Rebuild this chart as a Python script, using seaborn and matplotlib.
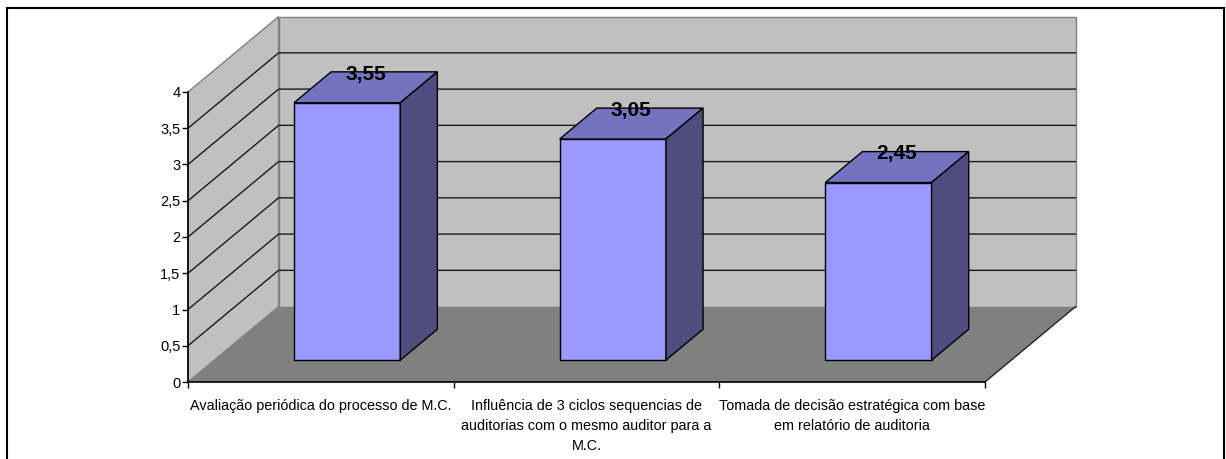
import numpy as np
import pandas as pd
import matplotlib
matplotlib.use("Agg")
import matplotlib.pyplot as plt
import seaborn as sns
from matplotlib.patches import Polygon, Rectangle

# data
categories = [
    "Avaliação periódica do processo de M.C.",
    "Influência de 3 ciclos sequencias de\nauditorias com o mesmo auditor para a\nM.C.",
    "Tomada de decisão estratégica com base\nem relatório de auditoria",
]
values = [3.55, 3.05, 2.45]
y_ticks = [0, 0.5, 1, 1.5, 2, 2.5, 3, 3.5, 4]
y_tick_labels = ["0", "0,5", "1", "1,5", "2", "2,5", "3", "3,5", "4"]

df = pd.DataFrame({"cat": categories, "val": values})

sns.set_style("white")
plt.rcParams['font.family'] = ['Liberation Sans', 'DejaVu Sans']
plt.rcParams['text.color'] = 'black'
plt.rcParams['xtick.color'] = 'black'
plt.rcParams['ytick.color'] = 'black'

W, H = 1226, 459
fig = plt.figure(figsize=(W / 100, H / 100), dpi=100)

# outer frame
fig.add_artist(Rectangle((7 / W, -0.02), (1224 - 7) / W, 1.02 - 8 / H,
                         transform=fig.transFigure, fill=False,
                         edgecolor='black', linewidth=1.5))

pos = [188 / W, 1 - 382 / H, (985 - 188) / W, (382 - 92) / H]
ax = fig.add_axes(pos)
ax.set_facecolor('none')
ax.set_xlim(-0.5, 2.5)
ax.set_ylim(0, 4)

# depth of the fake 3d box, in data units
ddx, ddy = 0.341, 1.04
x0, x1 = -0.5, 2.5
ytop = 4

wall = '#C0C0C0'
floor = '#808080'
ax.add_patch(Polygon([(x0, 0), (x1, 0), (x1 + ddx, ddy), (x0 + ddx, ddy)],
                     closed=True, facecolor=floor, edgecolor='none', clip_on=False, zorder=1))
ax.add_patch(Polygon([(x0 + ddx, ddy), (x1 + ddx, ddy), (x1 + ddx, ytop + ddy), (x0 + ddx, ytop + ddy)],
                     closed=True, facecolor=wall, edgecolor='#808080', lw=1, clip_on=False, zorder=1))
ax.add_patch(Polygon([(x0, 0), (x0 + ddx, ddy), (x0 + ddx, ytop + ddy), (x0, ytop)],
                     closed=True, facecolor=wall, edgecolor='#808080', lw=1, clip_on=False, zorder=1))
# floor right edge
ax.plot([x1, x1 + ddx], [0, ddy], color='#222222', lw=1, clip_on=False, zorder=2)

for t in y_ticks[1:-1]:
    ax.plot([x0, x0 + ddx, x1 + ddx], [t, t + ddy, t + ddy],
            color='#1a1a1a', lw=1, clip_on=False, zorder=2)

ax.spines['top'].set_visible(False)
ax.spines['right'].set_visible(False)
for s in ['left', 'bottom']:
    ax.spines[s].set_color('black')
    ax.spines[s].set_linewidth(1.2)
    ax.spines[s].set_zorder(3)

ax.set_yticks(y_ticks)
ax.set_yticklabels(y_tick_labels)
ax.tick_params(axis='y', direction='out', length=4, width=1, color='black',
               pad=1.5, labelsize=10.5, left=True, labelcolor='black')
ax.set_xticks(range(len(categories)))
ax.set_xticklabels(categories, linespacing=1.58)
ax.set_xticks([x0 + i for i in range(len(categories) + 1)], minor=True)
ax.tick_params(axis='x', which='major', length=0, pad=12, labelsize=10.4, labelcolor='black')
ax.tick_params(axis='x', which='minor', direction='out', length=4, width=1,
               color='black', bottom=True)

# bars live on a plane pushed into the box
fa, fb = 0.29, 0.70
sx, sy = fa * ddx, fa * ddy
bx, by = (fb - fa) * ddx, (fb - fa) * ddy
bw = 0.4

axb = fig.add_axes(pos)
axb.set_facecolor('none')
sns.barplot(data=df, x="cat", y="val", ax=axb, color='#9999FF', saturation=1,
            width=bw, edgecolor='black', linewidth=1, errorbar=None, zorder=3)
axb.set_xlim(-0.5 - sx, 2.5 - sx)
axb.set_ylim(0 - sy, 4 - sy)
axb.axis('off')

for i, v in enumerate(values):
    xl, xr = i - bw / 2, i + bw / 2
    axb.add_patch(Polygon([(xl, v), (xr, v), (xr + bx, v + by), (xl + bx, v + by)],
                          closed=True, facecolor='#7373BF', edgecolor='black', lw=1,
                          clip_on=False, zorder=4))
    axb.add_patch(Polygon([(xr, 0), (xr + bx, by), (xr + bx, v + by), (xr, v)],
                          closed=True, facecolor='#4D4D80', edgecolor='black', lw=1,
                          clip_on=False, zorder=4))
    axb.text(i + bx / 2, v + by - 0.03, f"{v:.2f}".replace('.', ','), ha='center', va='center',
             fontsize=15, fontweight='bold', color='black', zorder=5, clip_on=False)

plt.savefig("out.png", dpi=100)
